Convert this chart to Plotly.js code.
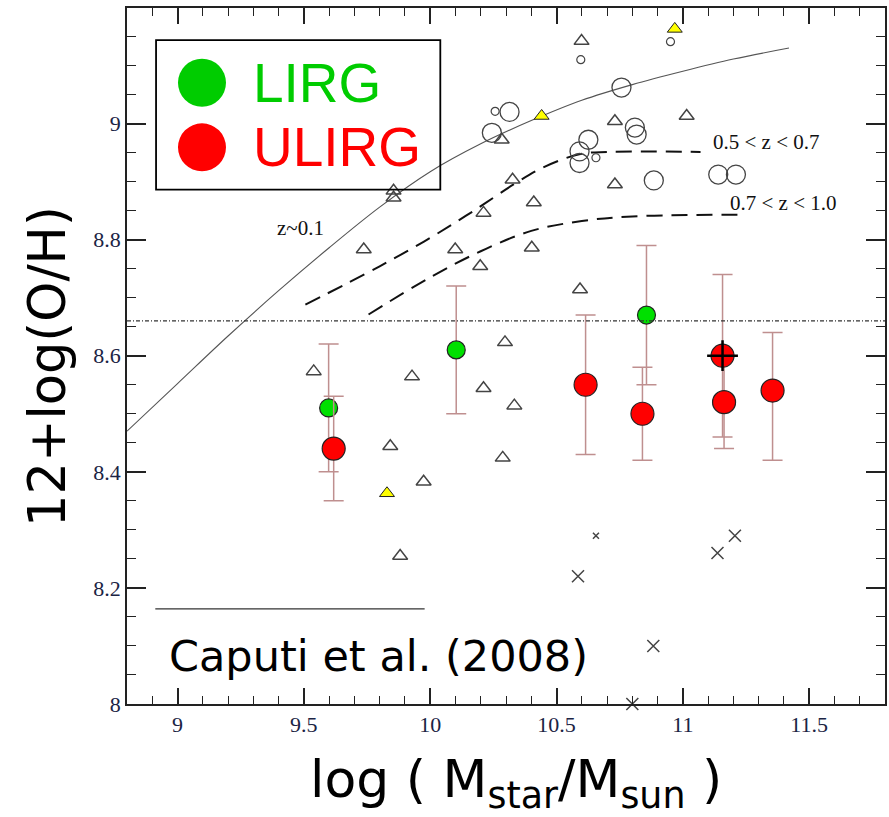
<!DOCTYPE html>
<html>
<head>
<meta charset="utf-8">
<script src="https://cdn.plot.ly/plotly-3.0.1.min.js"></script>
<style>
  html, body { margin: 0; padding: 0; background: #fff; }
  #chart { width: 889px; height: 817px; }
</style>
</head>
<body>
<div id="chart"></div>
<script>
// ---- data ----
// z~0.1 relation (solid curve)
const curveZ01X = [8.8, 9.0, 9.2, 9.4, 9.6, 9.8, 10.0, 10.2, 10.4, 10.6, 10.8, 11.0, 11.2, 11.42];
const curveZ01Y = [8.47, 8.552, 8.634, 8.712, 8.786, 8.856, 8.917, 8.965, 9.005, 9.04, 9.067, 9.09, 9.111, 9.13];
// 0.5<z<0.7 relation (dashed)
const curveZ05X = [9.506, 9.8, 10.0, 10.17, 10.33, 10.45, 10.59, 10.7, 11.07];
const curveZ05Y = [8.688, 8.754, 8.803, 8.849, 8.895, 8.925, 8.947, 8.951, 8.951];
// 0.7<z<1.0 relation (dashed)
const curveZ07X = [9.756, 10.0, 10.2, 10.4, 10.6, 10.8, 11.25];
const curveZ07Y = [8.671, 8.735, 8.78, 8.815, 8.832, 8.84, 8.843];
// reference level (dotted)
const solarLevel = 8.66;

// open triangles
const triX = [10.599, 11.015, 10.731, 10.283, 10.326, 10.41, 10.211, 10.731, 10.402, 10.198, 10.593,
              9.855, 9.855, 9.737, 10.099, 9.539, 9.928, 10.211, 9.842, 9.974, 9.881, 10.296, 10.333, 10.287];
const triY = [9.142, 9.013, 9.004, 8.972, 8.903, 8.864, 8.846, 8.895, 8.786, 8.754, 8.714,
              8.872, 8.884, 8.783, 8.783, 8.573, 8.564, 8.544, 8.444, 8.383, 8.255, 8.623, 8.514, 8.424];
// filled (yellow) triangles
const yTriX = [10.968, 10.441, 9.829];
const yTriY = [9.163, 9.013, 8.363];
// large open circles
const bigCircX = [10.314, 10.244, 10.757, 10.81, 10.817, 10.626, 10.591, 10.591, 10.885, 11.14, 11.21];
const bigCircY = [9.02, 8.984, 9.062, 8.993, 8.981, 8.972, 8.952, 8.932, 8.902, 8.912, 8.912];
// small open circles
const smallCircX = [10.596, 10.951, 10.257, 10.656];
const smallCircY = [9.11, 9.141, 9.021, 8.941];
// crosses
const crossX = [10.585, 10.883, 10.80, 11.137, 11.206];
const crossY = [8.22, 8.10, 8.0, 8.26, 8.29];
const smallCrossX = [10.656];
const smallCrossY = [8.29];

// LIRG (green) with errors
const lirgX = [9.598, 10.103, 10.856];
const lirgY = [8.51, 8.61, 8.67];
const lirgErr = [0.11, 0.11, 0.12];
// ULIRG (red) with errors
const ulirgX = [9.618, 10.615, 10.84, 11.157, 11.163, 11.355];
const ulirgY = [8.44, 8.55, 8.50, 8.60, 8.52, 8.54];
const ulirgErrPlus = [0.09, 0.12, 0.08, 0.14, 0.08, 0.10];
const ulirgErrMinus = [0.09, 0.12, 0.08, 0.14, 0.08, 0.12];
// ULIRG marked with a cross
const markedX = [11.157];
const markedY = [8.60];

// axes
const xRange = [8.8, 11.8];
const yRange = [8, 9.199];
const xMajor = 0.5, xMinor = 0.1;
const yMajor = 0.2, yMinor = 0.05;

// ---- traces ----
const errCol = '#bf8f8f';
const traces = [
  {x: curveZ01X, y: curveZ01Y, mode: 'lines', line: {color: '#555', width: 1.1, shape: 'spline'}, hoverinfo: 'skip'},
  {x: curveZ05X, y: curveZ05Y, mode: 'lines', line: {color: '#111', width: 2, dash: '16px,9px', shape: 'spline'}, hoverinfo: 'skip'},
  {x: curveZ07X, y: curveZ07Y, mode: 'lines', line: {color: '#111', width: 2, dash: '16px,9px', shape: 'spline'}, hoverinfo: 'skip'},
  {x: triX, y: triY, mode: 'markers', marker: {symbol: 'triangle-up-open', size: 13, color: '#444', line: {width: 1.5, color: '#444'}}},
  {x: yTriX, y: yTriY, mode: 'markers', marker: {symbol: 'triangle-up', size: 13, color: '#ffff00', line: {width: 1, color: '#222'}}},
  {x: bigCircX, y: bigCircY, mode: 'markers', marker: {symbol: 'circle-open', size: 19, color: '#444', line: {width: 1.3, color: '#444'}}},
  {x: smallCircX, y: smallCircY, mode: 'markers', marker: {symbol: 'circle-open', size: 8, color: '#444', line: {width: 1.2, color: '#444'}}},
  {x: crossX, y: crossY, mode: 'markers', cliponaxis: false, marker: {symbol: 'x-thin-open', size: 12, color: '#444', line: {width: 1.5, color: '#444'}}},
  {x: smallCrossX, y: smallCrossY, mode: 'markers', marker: {symbol: 'x-thin-open', size: 6, color: '#444', line: {width: 1.5, color: '#444'}}},
  {x: lirgX, y: lirgY, mode: 'markers',
   error_y: {type: 'data', array: lirgErr, symmetric: true, color: errCol, thickness: 1.5, width: 10},
   marker: {symbol: 'circle', size: 18, color: '#00e000', line: {width: 1.2, color: '#222'}}},
  {x: ulirgX, y: ulirgY, mode: 'markers',
   error_y: {type: 'data', array: ulirgErrPlus, arrayminus: ulirgErrMinus, symmetric: false, color: errCol, thickness: 1.5, width: 10},
   marker: {symbol: 'circle', size: 23, color: '#ff0000', line: {width: 1.2, color: '#222'}}},
  {x: markedX, y: markedY, mode: 'markers', marker: {symbol: 'cross-thin-open', size: 22, color: '#000', line: {width: 2.5, color: '#000'}}}
];

const serif = 'Liberation Serif, Times New Roman, serif';
const tickFontCol = '#1b2444';

const layout = {
  width: 889, height: 817,
  margin: {l: 127, r: 4, t: 8, b: 113},
  paper_bgcolor: '#fff', plot_bgcolor: '#fff',
  showlegend: false,
  xaxis: {
    range: xRange, tickmode: 'linear', tick0: 9, dtick: xMajor,
    ticks: 'inside', ticklen: 16, tickwidth: 1.5, tickcolor: '#222',
    minor: {dtick: xMinor, ticks: 'inside', ticklen: 8, tickwidth: 1.2, tickcolor: '#222'},
    showline: true, linecolor: '#222', linewidth: 1.5, mirror: 'ticks',
    showgrid: false, zeroline: false, layer: 'above traces',
    tickfont: {family: serif, size: 22, color: tickFontCol}
  },
  yaxis: {
    range: yRange, tickmode: 'linear', tick0: 8, dtick: yMajor,
    ticks: 'inside', ticklen: 19, tickwidth: 1.5, tickcolor: '#222',
    minor: {dtick: yMinor, ticks: 'inside', ticklen: 9, tickwidth: 1.2, tickcolor: '#222'},
    showline: true, linecolor: '#222', linewidth: 1.5, mirror: 'ticks',
    showgrid: false, zeroline: false, layer: 'above traces',
    tickfont: {family: serif, size: 22, color: tickFontCol}
  },
  shapes: [
    {type: 'line', xref: 'paper', x0: 0, x1: 1, yref: 'y', y0: solarLevel, y1: solarLevel,
     line: {color: '#333', width: 1.2, dash: '4px,2px,1px,2px'}},
    {type: 'line', xref: 'x', yref: 'y', x0: 8.912, x1: 9.978, y0: 8.164, y1: 8.164,
     line: {color: '#333', width: 1.2}},
    {type: 'rect', xref: 'x', yref: 'y', x0: 8.915, x1: 10.040, y0: 8.886, y1: 9.1436,
     line: {color: '#000', width: 1.8}, fillcolor: 'rgba(255,255,255,0)'},
    {type: 'circle', xref: 'x', yref: 'y', xsizemode: 'pixel', ysizemode: 'pixel',
     xanchor: 9.0968, yanchor: 9.0702, x0: -24, x1: 24, y0: -24, y1: 24,
     fillcolor: '#00cc00', line: {width: 0}},
    {type: 'circle', xref: 'x', yref: 'y', xsizemode: 'pixel', ysizemode: 'pixel',
     xanchor: 9.0968, yanchor: 8.959, x0: -24, x1: 24, y0: -24, y1: 24,
     fillcolor: '#ff0000', line: {width: 0}}
  ],
  annotations: [
    {x: 9.486, y: 8.82, xref: 'x', yref: 'y', text: 'z~0.1', showarrow: false,
     font: {family: serif, size: 21, color: '#111'}},
    {x: 11.113, y: 8.968, xref: 'x', yref: 'y', xanchor: 'left', text: '0.5 &lt; z &lt; 0.7', showarrow: false,
     font: {family: serif, size: 21, color: '#111'}},
    {x: 11.179, y: 8.863, xref: 'x', yref: 'y', xanchor: 'left', text: '0.7 &lt; z &lt; 1.0', showarrow: false,
     font: {family: serif, size: 21, color: '#111'}},
    {x: 8.957, y: 8.083, xref: 'x', yref: 'y', xanchor: 'left', text: 'Caputi et al. (2008)', showarrow: false,
     font: {family: 'Comic Sans MS, DejaVu Sans', size: 43, color: '#000'}},
    {x: 9.289, y: 9.0702, xref: 'x', yref: 'y', xanchor: 'left', text: 'LIRG', showarrow: false,
     font: {family: 'Liberation Sans, Arial, sans-serif', size: 55, color: '#00cc00'}},
    {x: 9.289, y: 8.959, xref: 'x', yref: 'y', xanchor: 'left', text: 'ULIRG', showarrow: false,
     font: {family: 'Liberation Sans, Arial, sans-serif', size: 55, color: '#ff0000'}},
    {x: 0.513, y: -0.114, xref: 'paper', yref: 'paper', xanchor: 'center', yanchor: 'middle',
     text: 'log ( M<sub>star</sub>/M<sub>sun</sub> )', showarrow: false,
     font: {family: 'DejaVu Sans', size: 52, color: '#000'}},
    {x: -0.1042, y: 0.4842, xref: 'paper', yref: 'paper', xanchor: 'center', yanchor: 'middle',
     text: '12+log(O/H)', textangle: -90, showarrow: false,
     font: {family: 'DejaVu Sans', size: 51, color: '#000'}}
  ]
};

Plotly.newPlot('chart', traces, layout, {displayModeBar: false})
  .then(function(gd) {
    // redraw the axes once everything else is in place
    return Plotly.relayout(gd, {'xaxis.ticklen': 16, 'yaxis.ticklen': 19});
  });
</script>
</body>
</html>
